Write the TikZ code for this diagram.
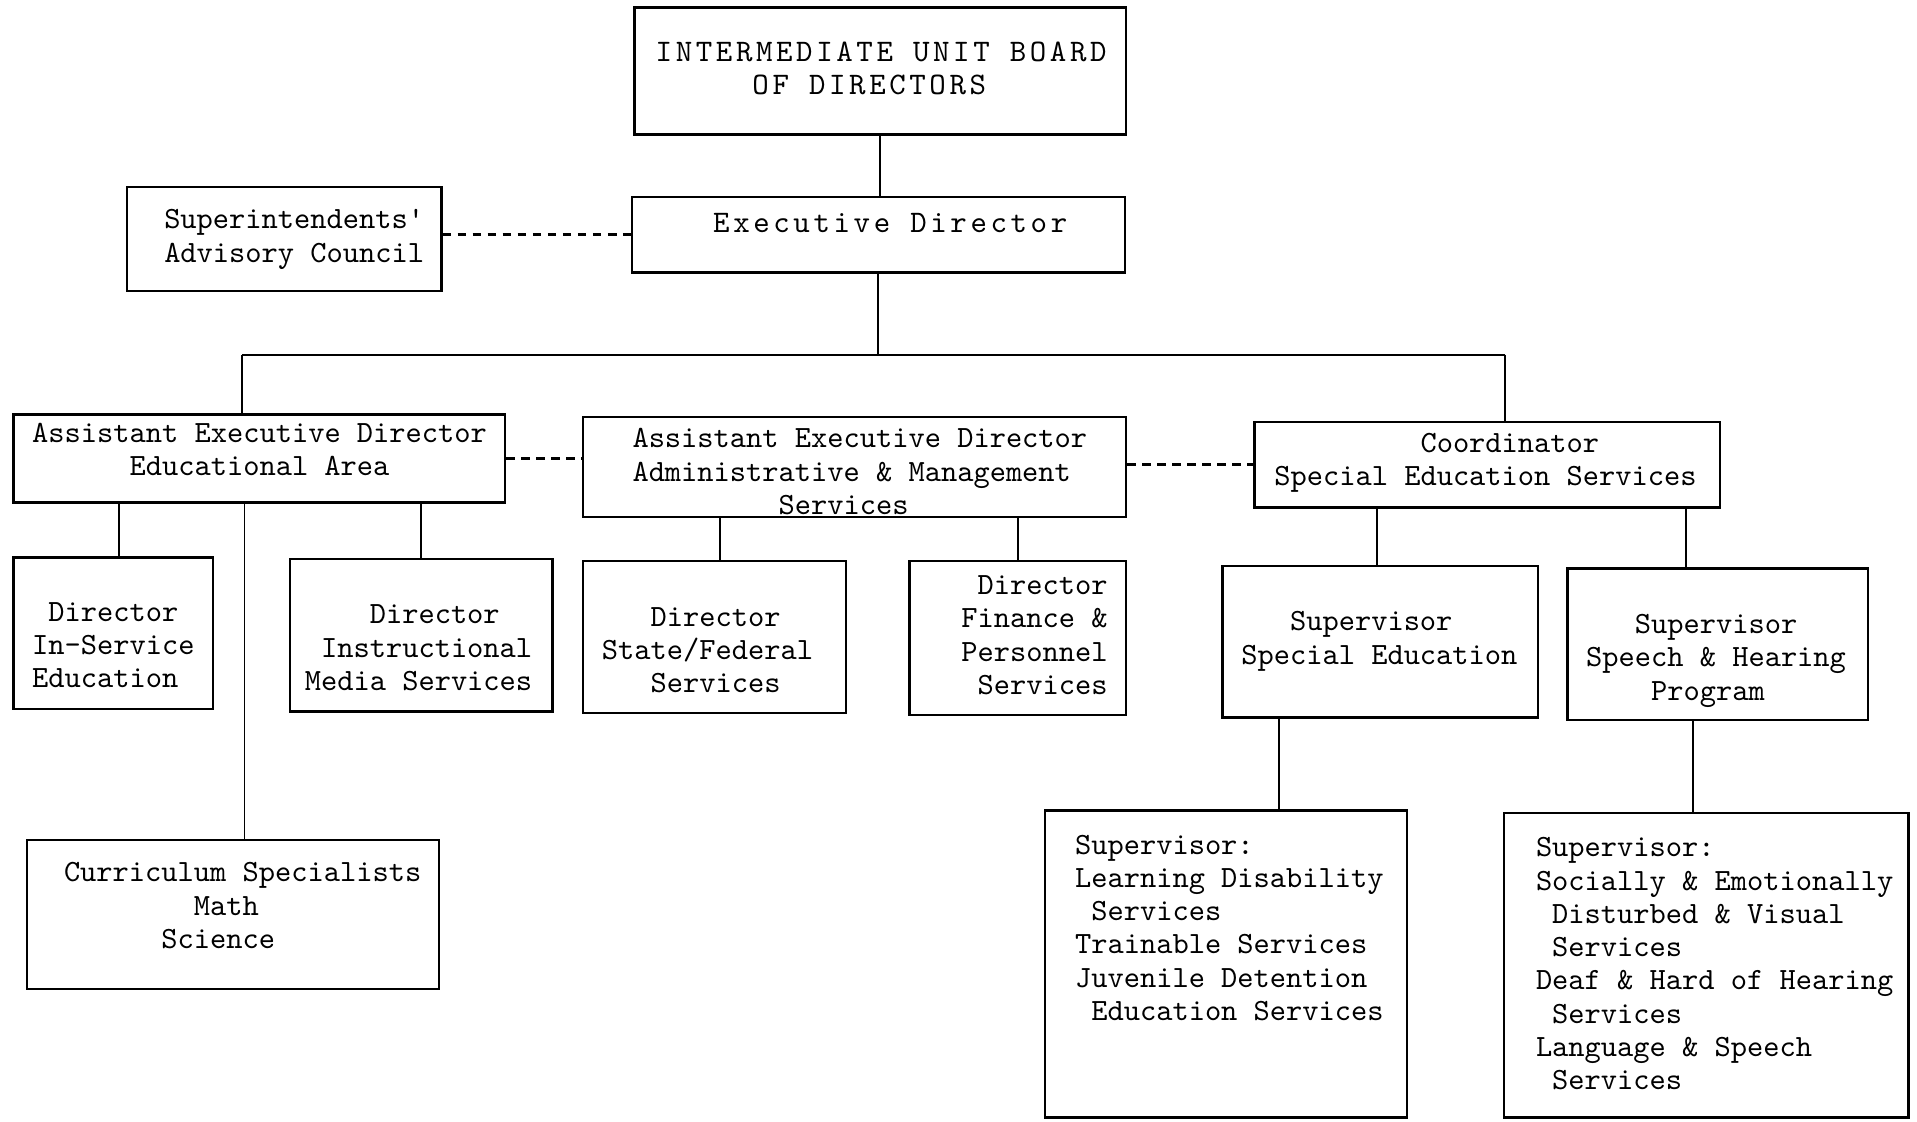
\documentclass[tikz,border=0pt]{standalone}
\usepackage{fontspec}
\newfontfamily\typew{lmmono10-regular.otf}
\usetikzlibrary{fit}
\begin{document}
\begin{tikzpicture}[x=0.02cm,y=-0.02cm,
  box/.style={draw, line width=1.1pt, inner sep=0pt},
  txt/.style={font=\typew\fontsize{14.4}{15.5}\selectfont, inner sep=0pt, align=left, anchor=base west, text=black},
  widetxt/.style={txt, font=\typew\fontsize{14.6}{15.5}\selectfont\addfontfeature{LetterSpace=11.5}},
  conn/.style={line width=0.9pt},
  dashline/.style={line width=1.2pt, dash pattern=on 4pt off 3pt}]
\useasboundingbox[fill=white] (0,0) rectangle (1568,917);

% boxes
\node[box, fit={(519,6)(921,110)}] (board) {};
\node[box, fit={(517,161)(920,223)}] (exec) {};
\node[box, fit={(104,153)(361,238)}] (sup) {};
\node[box, fit={(11,339)(413,411)}] (aed) {};
\node[box, fit={(477,341)(921,423)}] (aam) {};
\node[box, fit={(1026,345)(1407,415)}] (coord) {};
\node[box, fit={(11,456)(174,580)}] (dis) {};
\node[box, fit={(237,457)(452,582)}] (dim) {};
\node[box, fit={(22,687)(359,809)}] (cur) {};
\node[box, fit={(477,459)(692,583)}] (dsf) {};
\node[box, fit={(744,459)(921,585)}] (dfp) {};
\node[box, fit={(1000,463)(1258,587)}] (sse) {};
\node[box, fit={(1282,465)(1528,589)}] (ssh) {};
\node[box, fit={(855,663)(1151,914)}] (lds) {};
\node[box, fit={(1230,665)(1561,914)}] (sed) {};

% texts (anchored at the baseline of the last line)
\node[widetxt] (t-board) at (536,77.3) {INTERMEDIATE UNIT BOARD\\\hphantom{00000}OF DIRECTORS};
\node[widetxt] (t-exec) at (583,190) {Executive Director};
\node[txt] (t-sup) at (134,214.3) {Superintendents'\\Advisory Council};
\node[txt] (t-aed) at (26,389.3) {Assistant Executive Director\\\hphantom{000000}Educational Area};
\node[txt] (t-aam) at (517,420.7) {Assistant Executive Director\\Administrative \& Management\\\hphantom{000000000}Services};
\node[txt] (t-coord) at (1042,397.3) {\hphantom{000000000}Coordinator\\Special Education Services};
\node[txt] (t-dis) at (26,562.7) {\hphantom{0}Director\\In-Service\\Education};
\node[txt] (t-dim) at (249,564.7) {\hphantom{0000}Director\\\hphantom{0}Instructional\\Media Services};
\node[txt] (t-cur) at (52,775.7) {Curriculum Specialists\\\hphantom{00000000}Math\\\hphantom{000000}Science};
\node[txt] (t-dsf) at (492,566.7) {\hphantom{000}Director\\State/Federal\\\hphantom{000}Services};
\node[txt] (t-dfp) at (786,568) {\hphantom{0}Director\\Finance \&\\Personnel\\\hphantom{0}Services};
\node[txt] (t-sse) at (1015,543.3) {\hphantom{000}Supervisor\\Special Education};
\node[txt] (t-ssh) at (1297,572.7) {\hphantom{000}Supervisor\\Speech \& Hearing\\\hphantom{0000}Program};
\node[txt] (t-lds) at (879,834.7) {Supervisor:\\Learning Disability\\\hphantom{0}Services\\Trainable Services\\Juvenile Detention\\\hphantom{0}Education Services};
\node[txt] (t-sed) at (1256,891.4) {Supervisor:\\Socially \& Emotionally\\\hphantom{0}Disturbed \& Visual\\\hphantom{0}Services\\Deaf \& Hard of Hearing\\\hphantom{0}Services\\Language \& Speech\\\hphantom{0}Services};

% solid connectors
\coordinate (jl) at (198,290);
\coordinate (jr) at (1231,290);
\draw[conn] (board.south) -- (board.south |- exec.north);
\draw[conn] (exec.south) -- (exec.south |- jl);
\draw[conn] (jl) -- (jr);
\draw[conn] (jl) -- (jl |- aed.north);
\draw[conn] (jr) -- (jr |- coord.north);

\coordinate (c-dis) at ([xshift=0.09cm]dis.north);
\coordinate (c-cur) at ([xshift=0.19cm]cur.north);
\draw[conn] (c-dis) -- (c-dis |- aed.south);
\draw[conn] (dim.north) -- (dim.north |- aed.south);
\draw[conn] (c-cur) -- (c-cur |- aed.south);

\coordinate (c-dsf) at ([xshift=0.09cm]dsf.north);
\draw[conn] (c-dsf) -- (c-dsf |- aam.south);
\draw[conn] (dfp.north) -- (dfp.north |- aam.south);

\coordinate (c-sse) at ([xshift=-0.06cm]sse.north);
\coordinate (c-ssh) at ([xshift=-0.52cm]ssh.north);
\draw[conn] (c-sse) -- (c-sse |- coord.south);
\draw[conn] (c-ssh) -- (c-ssh |- coord.south);

\coordinate (c-lds) at ([xshift=0.87cm]lds.north);
\coordinate (c-sed) at ([xshift=-0.21cm]sed.north);
\draw[conn] (c-lds) -- (c-lds |- sse.south);
\draw[conn] (c-sed) -- (c-sed |- ssh.south);

% dashed links
\draw[dashline] (exec.west -| sup.east) -- (exec.west);
\draw[dashline] (aed.east) -- (aed.east -| aam.west);
\draw[dashline] (coord.west -| aam.east) -- (coord.west);
\end{tikzpicture}
\end{document}
